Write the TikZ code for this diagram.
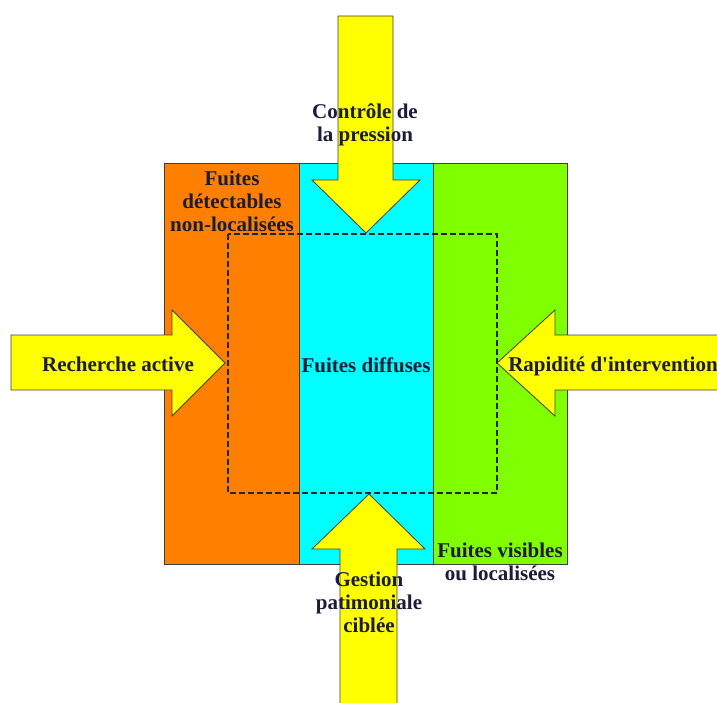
\documentclass[tikz,border=0pt]{standalone}
\usepackage{fontspec}
\setmainfont{Liberation Serif}[Ligatures=TeXOff]
\definecolor{zoneorange}{RGB}{255,128,0}
\definecolor{zonecyan}{RGB}{0,255,255}
\definecolor{zonegreen}{RGB}{128,255,0}
\definecolor{arrowyellow}{RGB}{255,255,0}
\definecolor{textnavy}{RGB}{28,28,56}
\tikzset{
  zone/.style={draw=black!75, line width=0.8pt},
  blockarrow/.style={draw=black!75, fill=arrowyellow, line width=0.8pt, line join=miter},
  zonetext/.style={font=\fontsize{21}{23}\selectfont\bfseries, text=textnavy,
    align=center, inner sep=0pt}
}
\begin{document}
\begin{tikzpicture}[x=1pt, y=-1pt]
  \clip (0,0) rectangle (717,702);
  \fill[white] (0,0) rectangle (717,702);
  % the three zones
  \draw[zone, fill=zoneorange] (164,163) rectangle (299,564);
  \draw[zone, fill=zonecyan] (299,163) rectangle (433,564);
  \draw[zone, fill=zonegreen] (433,163) rectangle (567,564);
  % arrows
  \draw[blockarrow] (338,16) -- (393,16) -- (393,180) -- (420,180) -- (366,233)
    -- (312,180) -- (338,180) -- cycle;
  \draw[blockarrow] (340,710) -- (397,710) -- (397,549) -- (425,549) -- (369,494)
    -- (312,549) -- (340,549) -- cycle;
  \draw[blockarrow] (11,335) -- (172,335) -- (172,310) -- (225,363) -- (172,416)
    -- (172,390) -- (11,390) -- cycle;
  \draw[blockarrow] (725,335) -- (555,335) -- (555,310) -- (497,363) -- (555,416)
    -- (555,390) -- (725,390) -- cycle;
  % dashed frame
  \draw[dash pattern=on 6pt off 3pt, line width=1.2pt, black!85] (228,234) rectangle (497,493);
  % texts
  \node[zonetext] (pression) at (365,125) {Contrôle de\\la pression};
  \node[zonetext] (detect) at (232,201) {Fuites\\détectables\\non-localisées};
  \node[zonetext] (recherche) at (118,364) {Recherche active};
  \node[zonetext] (diffuses) at (366,365) {Fuites diffuses};
  \node[zonetext] (rapidite) at (613,366) {Rapidité d'intervention};
  \node[zonetext] (visibles) at (500,562) {Fuites visibles\\ou localisées};
  \node[zonetext] (gestion) at (369,602) {Gestion\\patimoniale\\ciblée};
\end{tikzpicture}
\end{document}
